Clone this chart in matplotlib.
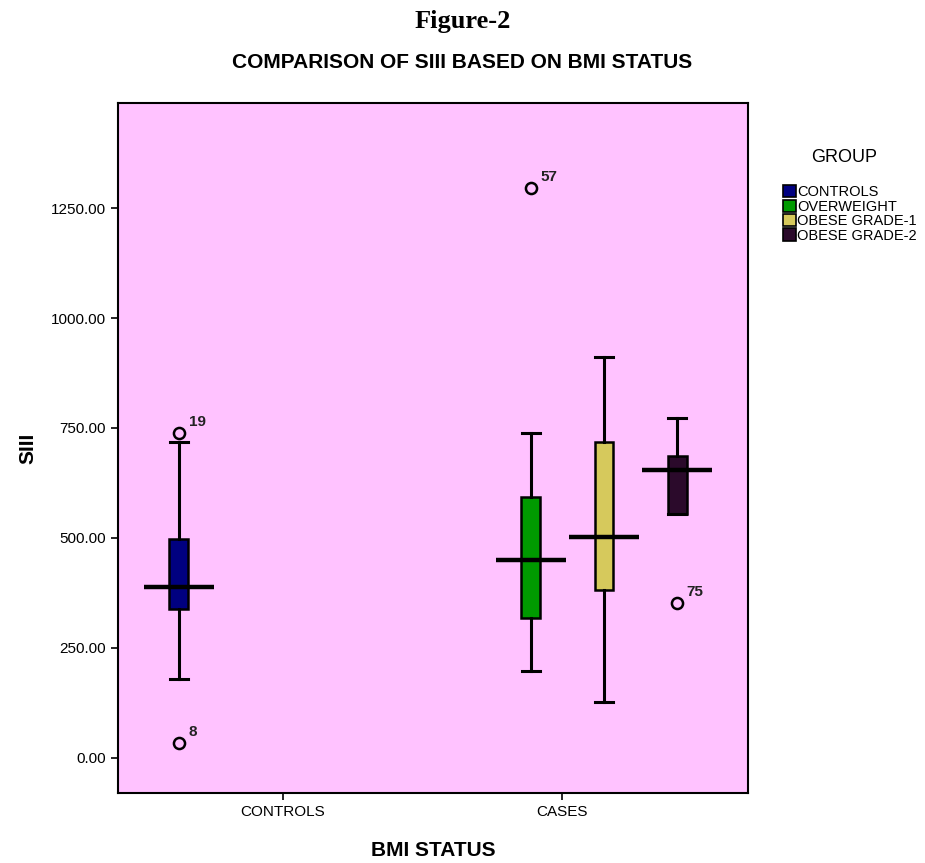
import matplotlib.pyplot as plt
from matplotlib.patches import Patch
import numpy as np

# data
categories = ['CONTROLS', 'CASES']
groups = ['CONTROLS', 'OVERWEIGHT', 'OBESE GRADE-1', 'OBESE GRADE-2']
group_cat = [0, 1, 1, 1]
group_slot = [0, 1, 2, 3]
colors = ['#000080', '#009a00', '#d6c95c', '#2b0a2b']
medians = [389, 450, 502, 654]
q1 = [339, 318, 382, 554]
q3 = [498, 593, 718, 686]
whislo = [180, 198, 127, 554]
whishi = [718, 739, 911, 772]
outliers = [[739, 34], [1296], [], [352]]
outlier_ids = [['19', '8'], ['57'], [], ['75']]

plt.rcParams['font.family'] = ['Liberation Sans', 'DejaVu Sans']

fig = plt.figure(figsize=(9.25, 8.63), dpi=100)
ax = fig.add_axes([0.1276, 0.0811, 0.6810, 0.7996])
ax.set_facecolor('#ffc2ff')

slot_w = 0.262
pos = [group_cat[i] + (group_slot[i] - 1.5) * slot_w + 0.02 for i in range(4)]

stats = []
for i in range(4):
    stats.append(dict(med=medians[i], q1=q1[i], q3=q3[i], whislo=whislo[i],
                      whishi=whishi[i], fliers=outliers[i], label=groups[i]))

bp = ax.bxp(stats, positions=pos, widths=0.068, patch_artist=True,
            showcaps=True, manage_ticks=False,
            boxprops=dict(linewidth=1.8, edgecolor='black'),
            whiskerprops=dict(linewidth=2.2, color='black'),
            capprops=dict(linewidth=2.2, color='black'),
            medianprops=dict(linewidth=3.2, color='black'),
            flierprops=dict(marker='o', markerfacecolor='none', markeredgecolor='black',
                            markersize=8, markeredgewidth=1.8))
for patch, c in zip(bp['boxes'], colors):
    patch.set_facecolor(c)
for cap in bp['caps']:
    x = cap.get_xdata()
    m = x.mean()
    cap.set_xdata([m - 0.033, m + 0.033])
# long median lines as in SPSS
for line, p in zip(bp['medians'], pos):
    line.set_xdata([p - 0.125, p + 0.125])

for i in range(4):
    for v, t in zip(outliers[i], outlier_ids[i]):
        ax.annotate(t, (pos[i], v), xytext=(7, 5), textcoords='offset points',
                    fontsize=11, fontweight='bold', color='#222222')

ax.set_xlim(-0.591, 1.667)
ax.set_ylim(-80, 1489)
ax.set_yticks(np.arange(0, 1251, 250))
ax.set_yticklabels(['%.2f' % v for v in np.arange(0, 1251, 250)], fontsize=11)
ax.set_xticks([0, 1])
ax.set_xticklabels(categories, fontsize=11)
ax.tick_params(length=5, width=1.2)
for s in ax.spines.values():
    s.set_linewidth(1.5)

ax.set_ylabel('SIII', fontsize=15, fontweight='bold', labelpad=10)
ax.set_xlabel('BMI STATUS', fontsize=15, fontweight='bold', labelpad=16)

fig.text(0.5, 0.975, 'Figure-2', ha='center', va='center', fontsize=19,
         fontweight='bold', family=['Liberation Serif', 'DejaVu Serif'])
fig.text(0.5, 0.928, 'COMPARISON OF SIII BASED ON BMI STATUS', ha='center', va='center',
         fontsize=15, fontweight='bold')

fig.text(0.913, 0.818, 'GROUP', ha='center', va='center', fontsize=13)
handles = [Patch(facecolor=c, edgecolor='black', linewidth=1.2) for c in colors]
leg = fig.legend(handles, groups, loc='upper left',
                 bbox_to_anchor=(0.84, 0.792), frameon=False, fontsize=10.5,
                 handlelength=0.9, handleheight=0.9,
                 handletextpad=0.1, labelspacing=0.02, borderaxespad=0)

fig.savefig('out.png', dpi=100)
